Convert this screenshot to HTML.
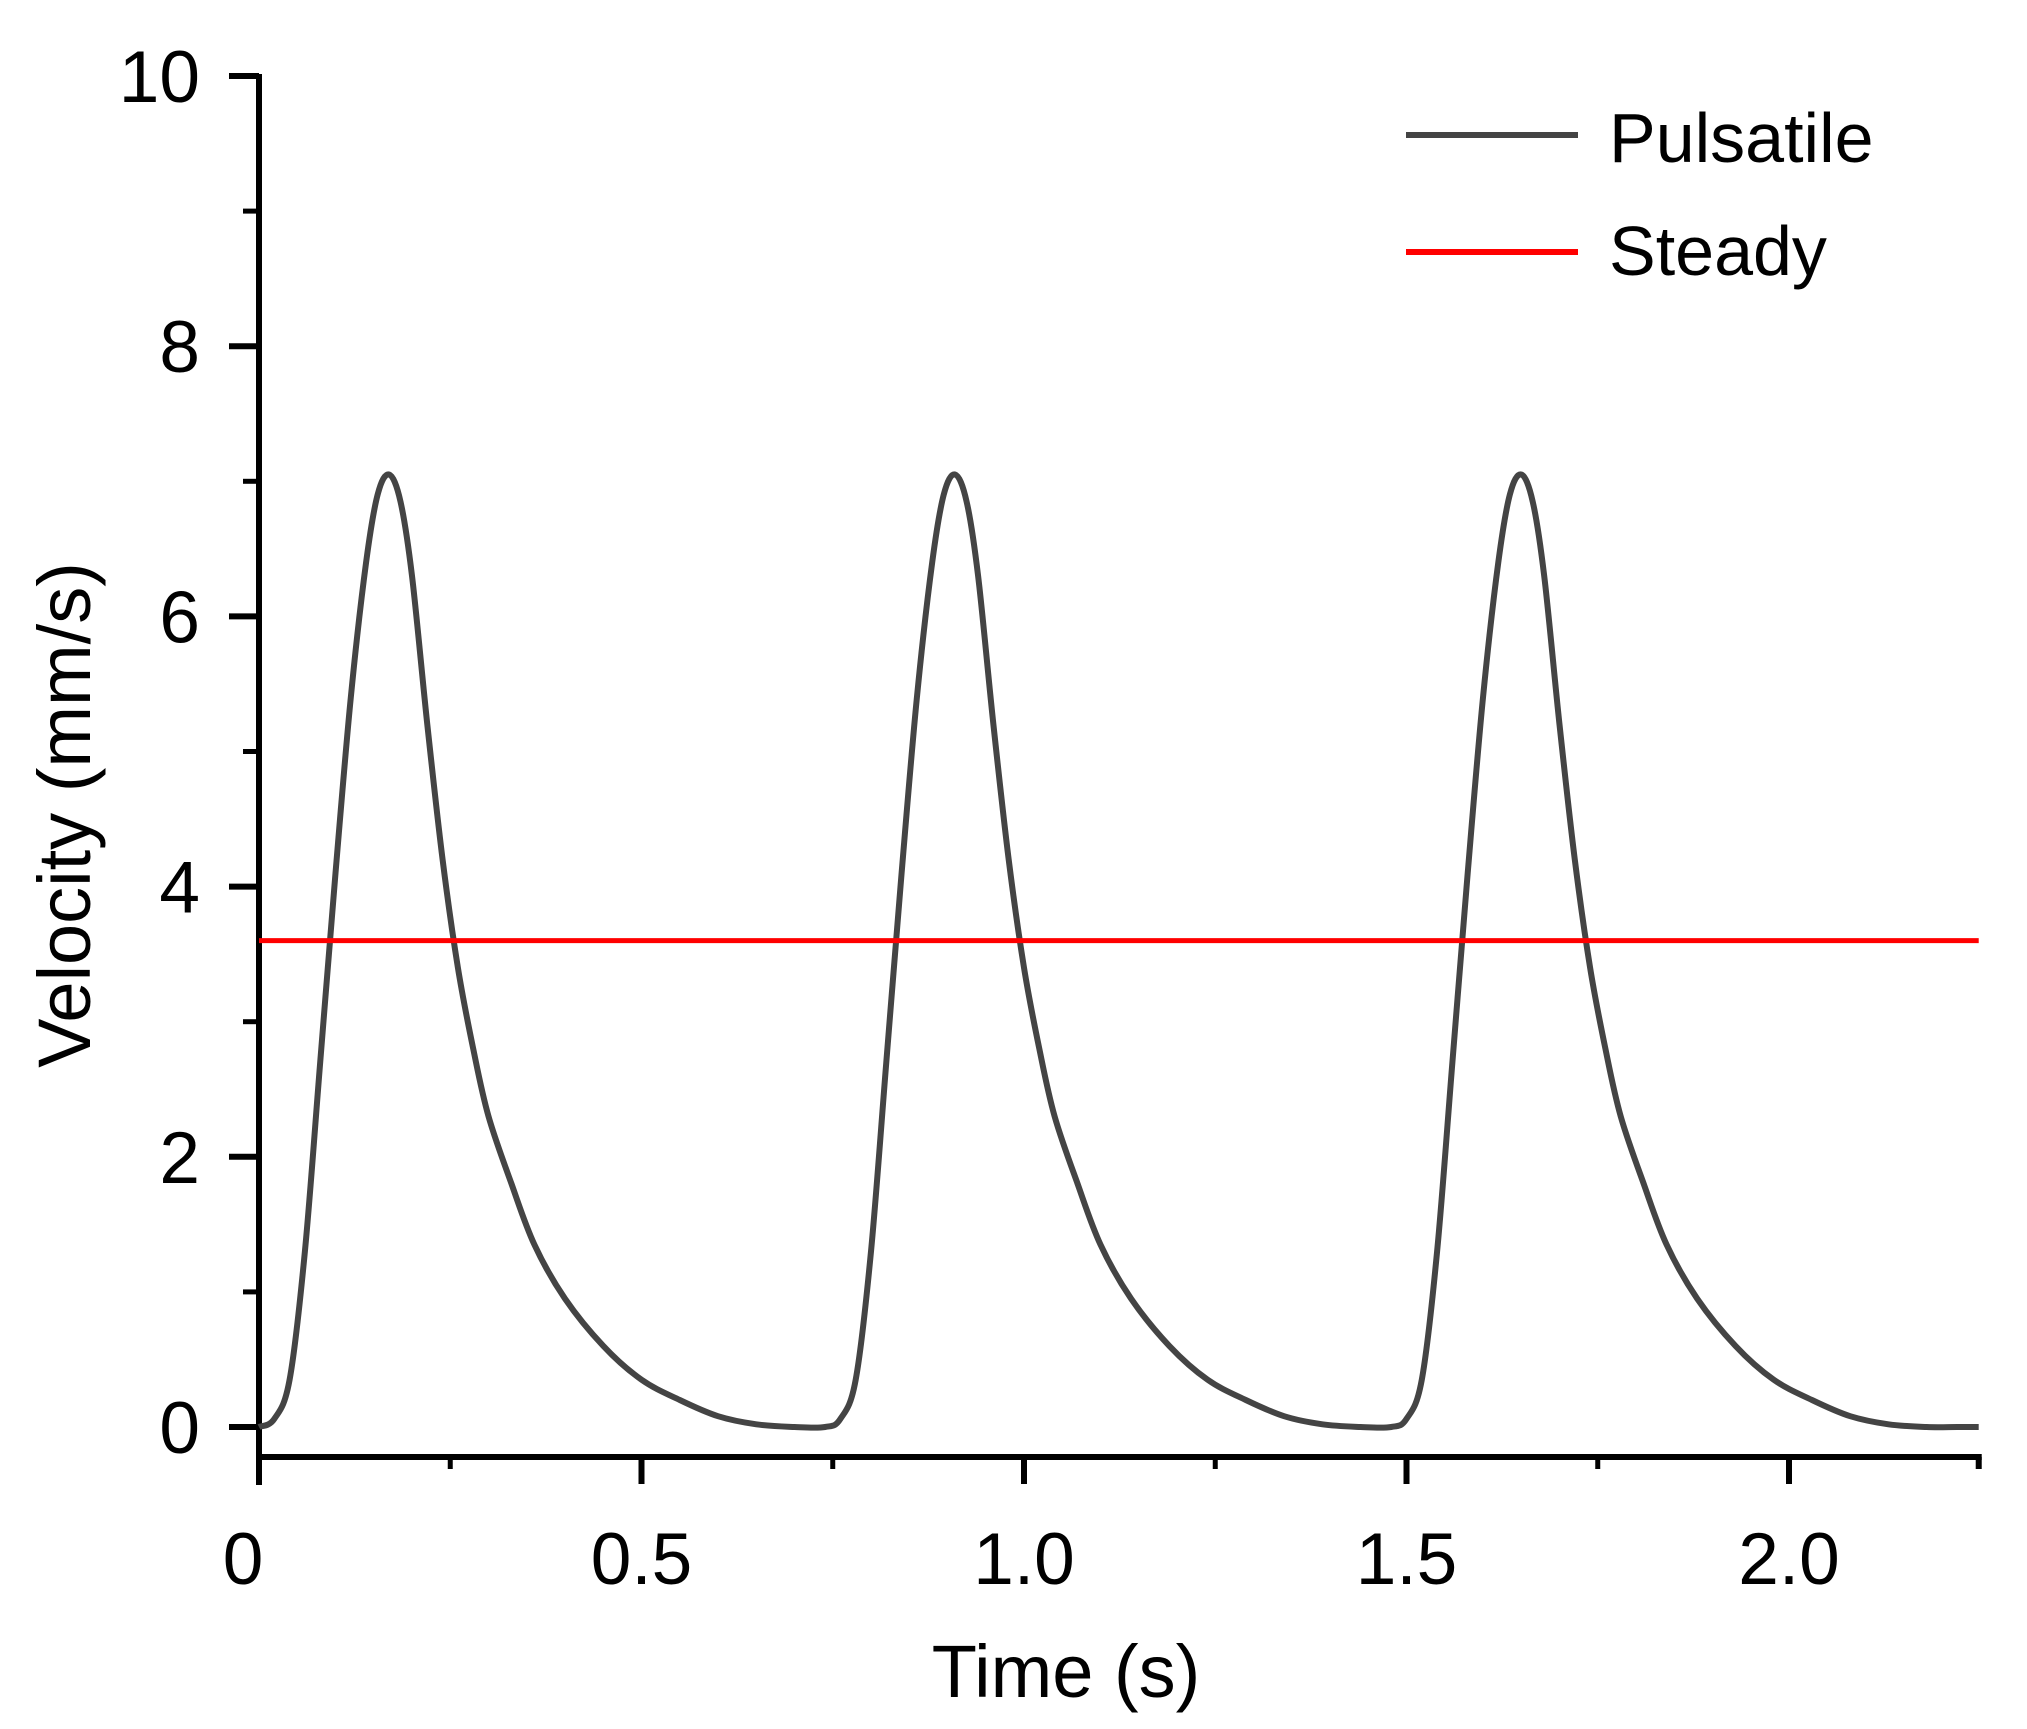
<!DOCTYPE html>
<html><head><meta charset="utf-8">
<style>
html,body{margin:0;padding:0;background:#fff;}
svg{display:block;font-family:"Liberation Sans",Arial,sans-serif;}
</style></head>
<body>
<svg id="chart" width="2027" height="1729" viewBox="0 0 2027 1729" xmlns="http://www.w3.org/2000/svg">
<g id="axes"></g>
<g id="series"></g>
<g>
  <line x1="1406" y1="135" x2="1578" y2="135" stroke="#444" stroke-width="6"/>
  <text x="1609" y="162" font-size="70" fill="#000">Pulsatile</text>
  <line x1="1406" y1="252" x2="1578" y2="252" stroke="#f00" stroke-width="6"/>
  <text x="1609" y="275" font-size="70" fill="#000">Steady</text>
</g>
<text x="1066" y="1697" font-size="74" text-anchor="middle" fill="#000">Time (s)</text>
<text transform="translate(90,815) rotate(-90)" font-size="74" text-anchor="middle" fill="#000">Velocity (mm/s)</text>
</svg>
<script>
const xTicks = [0, 0.5, 1.0, 1.5, 2.0];
const xTickLabels = ["0", "0.5", "1.0", "1.5", "2.0"];
const yTicks = [0, 2, 4, 6, 8, 10];
const yTickLabels = ["0", "2", "4", "6", "8", "10"];
const cycleTimes = [0,0.02,0.04,0.06,0.08,0.10,0.12,0.14,0.155,0.17,0.185,0.20,0.22,0.24,0.26,0.28,0.30,0.33,0.36,0.40,0.45,0.50,0.55,0.60,0.65,0.70,0.74];
const cycleValues = [0,0.06,0.35,1.3,2.7,4.1,5.4,6.4,6.9,7.05,6.85,6.3,5.2,4.2,3.4,2.8,2.3,1.8,1.35,0.95,0.6,0.35,0.2,0.08,0.02,0,0];
const cycleStarts = [0, 0.74, 1.48];
const steadyValue = [3.6];
const tMax = 2.248;

const X0 = 259, PXS = 765;
const Y0 = 1427, PXU = 135.1;
const xs = t => X0 + t * PXS;
const ys = v => Y0 - v * PXU;
const NS = "http://www.w3.org/2000/svg";
const axes = document.getElementById('axes');
const series = document.getElementById('series');
function mk(tag, attrs, parent){ const e=document.createElementNS(NS,tag); for(const k in attrs) e.setAttribute(k,attrs[k]); parent.appendChild(e); return e; }

const ya = mk('line',{x1:X0,y1:ys(10)-2,x2:X0,y2:1485,stroke:'#000','stroke-width':6},axes);


const xa = mk('line',{x1:X0-3,y1:1457,x2:xs(tMax)+3,y2:1457,stroke:'#000','stroke-width':6},axes);


const endTick = mk('line',{x1:xs(tMax),y1:1457,x2:xs(tMax),y2:1469,stroke:'#000','stroke-width':6},axes);



yTicks.forEach((v,i)=>{
  const t = mk('line',{x1:X0-30,y1:ys(v),x2:X0,y2:ys(v),stroke:'#000','stroke-width':6},axes);
  
  
  if(i<yTicks.length-1){
    const m = mk('line',{x1:X0-16,y1:ys(v+1),x2:X0,y2:ys(v+1),stroke:'#000','stroke-width':5},axes);
    
    
  }
  const lb = mk('text',{x:200,y:ys(v)+26,'font-size':73,'text-anchor':'end',fill:'#000'},axes);
  lb.textContent = yTickLabels[i];
  
  
});
xTicks.forEach((t,i)=>{
  const tk = mk('line',{x1:xs(t),y1:1457,x2:xs(t),y2:1484,stroke:'#000','stroke-width':6},axes);
  
  
  if(t+0.25<tMax){
    const m = mk('line',{x1:xs(t+0.25),y1:1457,x2:xs(t+0.25),y2:1469,stroke:'#000','stroke-width':5},axes);
    
    
  }
  const lb = mk('text',{x:xs(t)-(i===0?16:0),y:1584,'font-size':73,'text-anchor':'middle',fill:'#000'},axes);
  lb.textContent = xTickLabels[i];
  
  
});

const pts = [];
cycleStarts.forEach((s,ci)=>{
  cycleTimes.forEach((t,j)=>{
    if(ci>0 && j===0) return;
    pts.push([xs(s+t), ys(cycleValues[j])]);
  });
});
pts.push([xs(tMax), ys(0)]);
let d = 'M'+pts[0][0].toFixed(1)+','+pts[0][1].toFixed(1);
for(let i=0;i<pts.length-1;i++){
  const p0=pts[Math.max(0,i-1)], p1=pts[i], p2=pts[i+1], p3=pts[Math.min(pts.length-1,i+2)];
  const c1=[p1[0]+(p2[0]-p0[0])/6, p1[1]+(p2[1]-p0[1])/6];
  const c2=[p2[0]-(p3[0]-p1[0])/6, p2[1]-(p3[1]-p1[1])/6];
  d+=' C'+c1[0].toFixed(1)+','+c1[1].toFixed(1)+' '+c2[0].toFixed(1)+','+c2[1].toFixed(1)+' '+p2[0].toFixed(1)+','+p2[1].toFixed(1);
}
const pl = mk('path',{d:d,fill:'none',stroke:'#444','stroke-width':6,'stroke-linejoin':'round'},series);



const sl = mk('line',{x1:X0,y1:ys(steadyValue[0]),x2:xs(tMax),y2:ys(steadyValue[0]),stroke:'#f00','stroke-width':5},series);


</script>
</body></html>
